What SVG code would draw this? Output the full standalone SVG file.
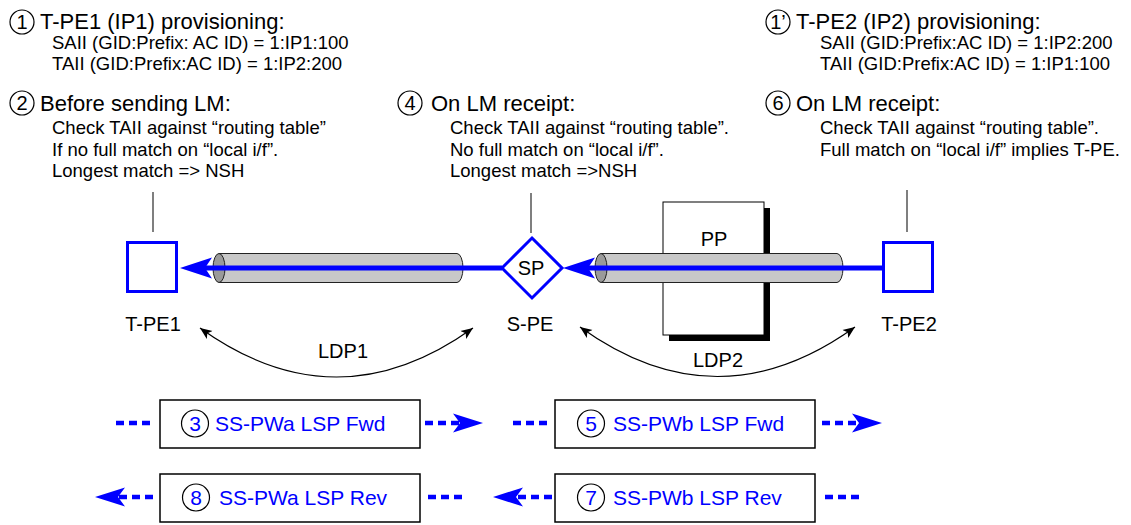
<svg xmlns="http://www.w3.org/2000/svg" width="1131" height="525" viewBox="0 0 1131 525">
  <style>
    text { font-family: "Liberation Sans", Arial, sans-serif; fill: #000; }
    .h { font-size: 22px; }
    .s { font-size: 18.5px; }
    .lbl { font-size: 20px; text-anchor: middle; }
    .num { font-size: 20px; text-anchor: middle; }
    .bnum { font-size: 21px; text-anchor: middle; fill: #0000ff; }
    .btxt { font-size: 21px; fill: #0000ff; }
    .ring { fill: none; stroke: #000; stroke-width: 1.2; }
    .lead { stroke: #555; stroke-width: 1.5; }
    .node { fill: #fff; stroke: #0000ff; stroke-width: 3; }
    .pw { stroke: #0000ff; stroke-width: 5; fill: none; }
    .head { fill: #0000ff; }
    .tube { fill: #c8c8c8; stroke: #222; stroke-width: 1; }
    .cap { fill: #9a9a9a; stroke: #222; stroke-width: 1; }
    .ldp { fill: none; stroke: #000; stroke-width: 1.2; }
    .box { fill: #fff; stroke: #000; stroke-width: 1.5; }
    .dash { stroke: #0000ff; stroke-width: 4.5; stroke-dasharray: 8 5; fill: none; }
  </style>
  <defs>
    <marker id="ldpArrow" viewBox="-12 -6 13 12" refX="0" refY="0" markerWidth="13" markerHeight="12" markerUnits="userSpaceOnUse" orient="auto-start-reverse">
      <path d="M0,0 L-12,-5 L-9,0 L-12,5 Z" fill="#000"/>
    </marker>
  </defs>

  <!-- annotations -->
  <g id="note-1">
    <circle class="ring" cx="22" cy="22" r="12"/>
    <text class="num" x="22" y="29">1</text>
    <text class="h" x="40" y="29">T-PE1 (IP1) provisioning:</text>
    <text class="s" x="52" y="49">SAII (GID:Prefix: AC ID) = 1:IP1:100</text>
    <text class="s" x="52" y="70">TAII (GID:Prefix:AC ID) = 1:IP2:200</text>
  </g>
  <g id="note-2">
    <circle class="ring" cx="22" cy="103" r="12"/>
    <text class="num" x="22" y="110">2</text>
    <text class="h" x="40" y="111">Before sending LM:</text>
    <text class="s" x="52" y="134">Check TAII against “routing table”</text>
    <text class="s" x="52" y="156">If no full match on “local i/f”.</text>
    <text class="s" x="52" y="177">Longest match =&gt; NSH</text>
  </g>
  <g id="note-4">
    <circle class="ring" cx="410" cy="103" r="12"/>
    <text class="num" x="410" y="110">4</text>
    <text class="h" x="431" y="111">On LM receipt:</text>
    <text class="s" x="450" y="134">Check TAII against “routing table”.</text>
    <text class="s" x="450" y="156">No full match on “local i/f”.</text>
    <text class="s" x="450" y="177">Longest match =&gt;NSH</text>
  </g>
  <g id="note-1p">
    <circle class="ring" cx="778" cy="22" r="12"/>
    <text class="num" x="778" y="29">1’</text>
    <text class="h" x="796" y="29">T-PE2 (IP2) provisioning:</text>
    <text class="s" x="820" y="49">SAII (GID:Prefix:AC ID) = 1:IP2:200</text>
    <text class="s" x="820" y="70">TAII (GID:Prefix:AC ID) = 1:IP1:100</text>
  </g>
  <g id="note-6">
    <circle class="ring" cx="778" cy="103" r="12"/>
    <text class="num" x="778" y="110">6</text>
    <text class="h" x="796" y="111">On LM receipt:</text>
    <text class="s" x="820" y="134">Check TAII against “routing table”.</text>
    <text class="s" x="820" y="156">Full match on “local i/f” implies T-PE.</text>
  </g>

  <!-- leader lines from notes to nodes -->
  <g id="leaders">
    <line class="lead" x1="153" y1="192" x2="153" y2="232"/>
    <line class="lead" x1="531" y1="193" x2="531" y2="233" stroke="#111"/>
    <line class="lead" x1="907" y1="190" x2="907" y2="232"/>
  </g>

  <!-- provider router with shadow -->
  <g id="pp">
    <rect x="669" y="208" width="101" height="133" fill="#000"/>
    <rect x="663" y="202" width="101" height="133" fill="#fff" stroke="#000" stroke-width="1"/>
    <text class="lbl" x="714" y="246">PP</text>
  </g>

  <!-- tunnels -->
  <g id="tunnel-1">
    <path class="tube" d="M219,253.5 L457,253.5 A6,14.5 0 0 1 457,282.5 L219,282.5 Z"/>
    <ellipse class="cap" cx="219" cy="268" rx="6" ry="14.5"/>
  </g>
  <g id="tunnel-2">
    <path class="tube" d="M601,253.5 L837,253.5 A6,14.5 0 0 1 837,282.5 L601,282.5 Z"/>
    <ellipse class="cap" cx="601" cy="268" rx="6" ry="14.5"/>
  </g>

  <!-- connectors -->
  <g id="connectors">
    <line class="pw" x1="502" y1="268" x2="204" y2="268"/>
    <path class="head" d="M180,268 L212,257.5 L205,268 L212,278.5 Z"/>
    <line class="pw" x1="883" y1="268" x2="587" y2="268"/>
    <path class="head" d="M563,268 L595,257.5 L588,268 L595,278.5 Z"/>
    <path class="ldp" d="M200,328 Q336.5,426 473,328" marker-start="url(#ldpArrow)" marker-end="url(#ldpArrow)"/>
    <path class="ldp" d="M580,327 Q717.5,426 855,327" marker-start="url(#ldpArrow)" marker-end="url(#ldpArrow)"/>
  </g>

  <!-- nodes -->
  <g id="t-pe1">
    <rect class="node" x="127.5" y="242.5" width="49" height="49"/>
    <text class="lbl" x="153" y="331">T-PE1</text>
  </g>
  <g id="s-pe">
    <path class="node" d="M532,238 L562,268 L532,298 L502,268 Z"/>
    <text class="lbl" x="531" y="275">SP</text>
    <text class="lbl" x="530" y="331">S-PE</text>
  </g>
  <g id="t-pe2">
    <rect class="node" x="883.5" y="242.5" width="49" height="49"/>
    <text class="lbl" x="909" y="331">T-PE2</text>
  </g>
  <g id="ldp-labels">
    <text class="lbl" x="343" y="358">LDP1</text>
    <text class="lbl" x="718" y="367">LDP2</text>
  </g>

  <!-- LSP legend -->
  <g id="lsp-3">
    <rect class="box" x="160" y="400" width="260" height="48"/>
    <circle class="ring" cx="195" cy="423.5" r="13.5"/>
    <text class="bnum" x="195" y="431">3</text>
    <text class="btxt" x="215" y="431">SS-PWa LSP Fwd</text>
  </g>
  <g id="lsp-5">
    <rect class="box" x="555" y="400" width="260" height="48"/>
    <circle class="ring" cx="591" cy="423.5" r="13.5"/>
    <text class="bnum" x="591" y="431">5</text>
    <text class="btxt" x="613" y="431">SS-PWb LSP Fwd</text>
  </g>
  <g id="lsp-8">
    <rect class="box" x="160" y="474" width="260" height="48"/>
    <circle class="ring" cx="196" cy="497.5" r="13.5"/>
    <text class="bnum" x="196" y="505">8</text>
    <text class="btxt" x="219" y="505">SS-PWa LSP Rev</text>
  </g>
  <g id="lsp-7">
    <rect class="box" x="555" y="474" width="260" height="48"/>
    <circle class="ring" cx="591" cy="497.5" r="13.5"/>
    <text class="bnum" x="591" y="505">7</text>
    <text class="btxt" x="613" y="505">SS-PWb LSP Rev</text>
  </g>

  <!-- dashed LSP direction arrows -->
  <g id="lsp-arrows">
    <line class="dash" x1="116" y1="423" x2="150" y2="423"/>
    <line class="dash" x1="425" y1="423" x2="460" y2="423"/>
    <path class="head" d="M483,423 L453,413.5 L460,423 L453,432.5 Z"/>
    <line class="dash" x1="513" y1="423" x2="547" y2="423"/>
    <line class="dash" x1="822" y1="423" x2="859" y2="423"/>
    <path class="head" d="M882,423 L852,413.5 L859,423 L852,432.5 Z"/>

    <line class="dash" x1="153" y1="497" x2="118" y2="497"/>
    <path class="head" d="M95,497 L125,487.5 L118,497 L125,506.5 Z"/>
    <line class="dash" x1="428" y1="497" x2="462" y2="497"/>
    <line class="dash" x1="552" y1="497" x2="516" y2="497"/>
    <path class="head" d="M493,497 L523,487.5 L516,497 L523,506.5 Z"/>
    <line class="dash" x1="825" y1="497" x2="859" y2="497"/>
  </g>
</svg>
